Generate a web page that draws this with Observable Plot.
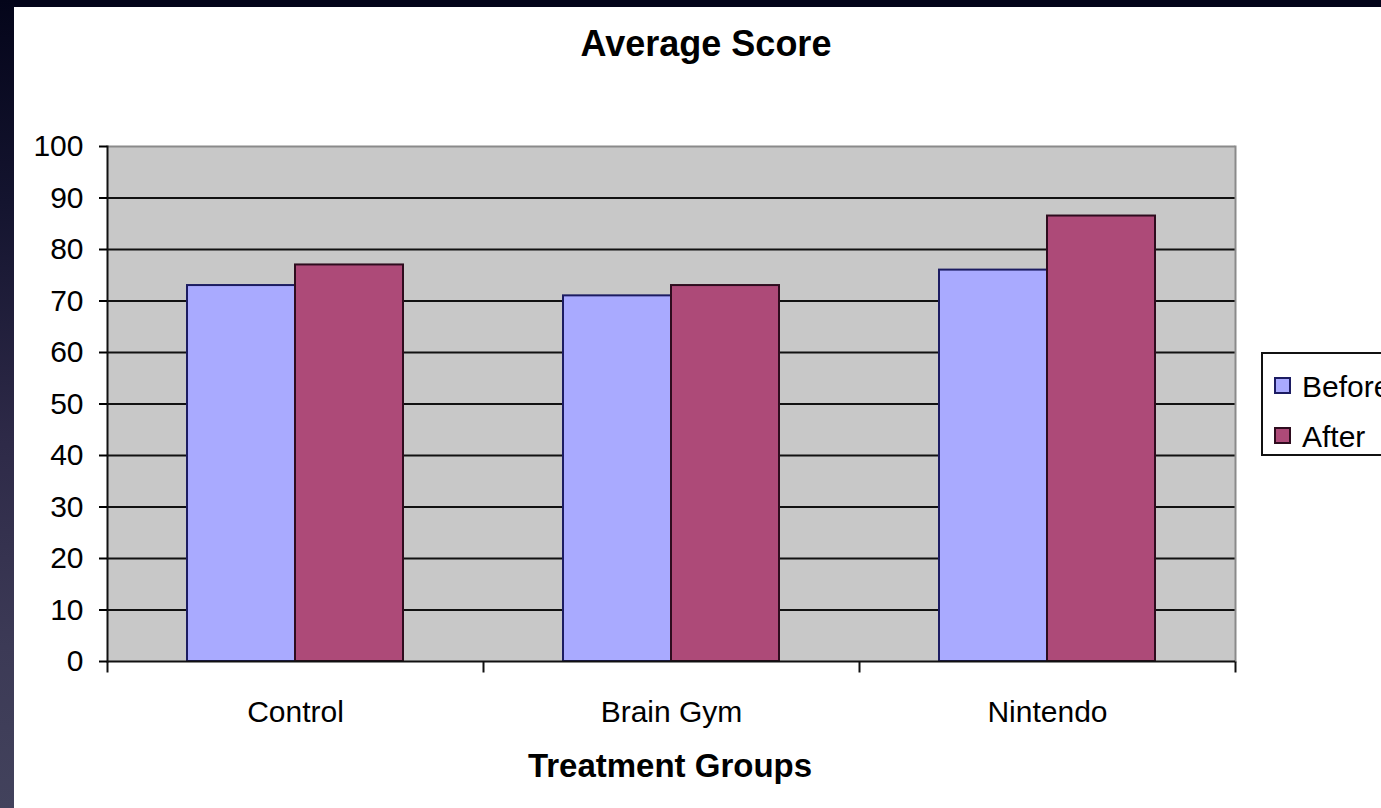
<!DOCTYPE html>
<html>
<head>
<meta charset="utf-8">
<script src="https://cdn.jsdelivr.net/npm/d3@7"></script>
<script src="https://cdn.jsdelivr.net/npm/@observablehq/plot@0.6"></script>
<style>
  html, body { margin: 0; padding: 0; }
  body {
    width: 1381px; height: 808px; overflow: hidden; position: relative;
    background: #03041a;
    font-family: "Liberation Sans", Arial, sans-serif;
  }
  #strip {
    position: absolute; left: 0; top: 0; width: 14px; height: 808px;
    background: linear-gradient(to bottom, #04051a 0%, #14142f 25%, #2e2a48 55%, #3c3a56 80%, #42425c 100%);
  }
  #card { position: absolute; left: 14px; top: 7px; right: 0; bottom: 0; background: #ffffff; }
  #chart { position: absolute; left: 0; top: 0; }
  .title {
    position: absolute; font-weight: bold; line-height: 1; white-space: nowrap;
    transform: translateX(-50%); color: #000;
  }
  #legend {
    position: absolute; left: 1261px; top: 352px; width: 160px; height: 100px;
    border: 2px solid #111; background: #fff;
  }
  .item { position: absolute; left: 11px; font-size: 30px; line-height: 1; white-space: nowrap; }
  .sw { position: absolute; left: 0; width: 13px; height: 13px; border: 2px solid; }
  .lab { position: absolute; left: 28px; top: 0; }
</style>
</head>
<body>
<div id="strip"></div>
<div id="card"></div>
<div id="chart"></div>
<div class="title" id="t1" style="left:706px; top:26px; font-size:36px;">Average Score</div>
<div class="title" id="t2" style="left:670px; top:749px; font-size:33px;">Treatment Groups</div>
<div id="legend"></div>
<script>
// ---- data ----
const groups = ["Control", "Brain Gym", "Nintendo"];
const seriesNames = ["Before", "After"];
const beforeValues = [73, 71, 76];
const afterValues = [77, 73, 86.5];
const yTicks = [0, 10, 20, 30, 40, 50, 60, 70, 80, 90, 100];
const fillColors = ["#a9aaff", "#ad4a78"];
const strokeColors = ["#1c1c62", "#2e0c1e"];

const rows = groups.flatMap((g, i) => [
  {group: g, series: seriesNames[0], value: beforeValues[i]},
  {group: g, series: seriesNames[1], value: afterValues[i]}
]);

const tickDown = {draw(ctx) { ctx.moveTo(0, 0); ctx.lineTo(0, 11); }};

const chart = Plot.plot({
  width: 1381,
  height: 808,
  marginLeft: 106,
  marginRight: 146,
  marginTop: 146,
  marginBottom: 147,
  style: {background: "transparent", fontFamily: "'Liberation Sans', Arial, sans-serif", color: "#000"},
  fx: {domain: groups, padding: 0, label: null},
  x: {domain: seriesNames, paddingInner: 0, paddingOuter: 0.737, axis: null},
  y: {domain: [0, 100], label: null},
  color: {domain: seriesNames, range: fillColors},
  marks: [
    Plot.frame({facet: "super", fill: "#c8c8c8"}),
    Plot.ruleY(yTicks.slice(1, -1), {stroke: "#111", strokeWidth: 2}),
    Plot.ruleY([100], {stroke: "#8a8a8a", strokeWidth: 2}),
    Plot.barY(rows.filter(d => d.series === seriesNames[0]), {fx: "group", x: "series", y: "value", fill: "series", stroke: strokeColors[0], strokeWidth: 2}),
    Plot.barY(rows.filter(d => d.series === seriesNames[1]), {fx: "group", x: "series", y: "value", fill: "series", stroke: strokeColors[1], strokeWidth: 2}),
    Plot.frame({facet: "super", anchor: "right", stroke: "#8a8a8a", strokeWidth: 2}),
    Plot.frame({facet: "super", anchor: "left", stroke: "#111", strokeWidth: 2}),
    Plot.ruleY([0], {stroke: "#111", strokeWidth: 2}),
    Plot.dot([0], {frameAnchor: "bottom-left", symbol: tickDown, fill: "none", stroke: "#111", strokeWidth: 2}),
    Plot.dot([0], {facet: "super", frameAnchor: "bottom-right", symbol: tickDown, fill: "none", stroke: "#111", strokeWidth: 2}),
    Plot.axisY({ticks: yTicks, tickSize: 8, tickPadding: 16, strokeWidth: 2, fontSize: 30, label: null}),
    Plot.axisFx({anchor: "bottom", tickSize: 0, tickPadding: 39, fontSize: 30, label: null})
  ]
});
document.getElementById("chart").appendChild(chart);

// ---- legend (HTML, same colours as the scale) ----
const legend = document.getElementById("legend");
const tops = [18, 68];
seriesNames.forEach((name, i) => {
  const item = document.createElement("div");
  item.className = "item";
  item.style.top = tops[i] + "px";
  const sw = document.createElement("div");
  sw.className = "sw";
  sw.style.top = "5px";
  sw.style.background = chart.scale("color").apply(name);
  sw.style.borderColor = strokeColors[i];
  const lab = document.createElement("div");
  lab.className = "lab";
  lab.textContent = name;
  item.appendChild(sw);
  item.appendChild(lab);
  legend.appendChild(item);
});
</script>
</body>
</html>
